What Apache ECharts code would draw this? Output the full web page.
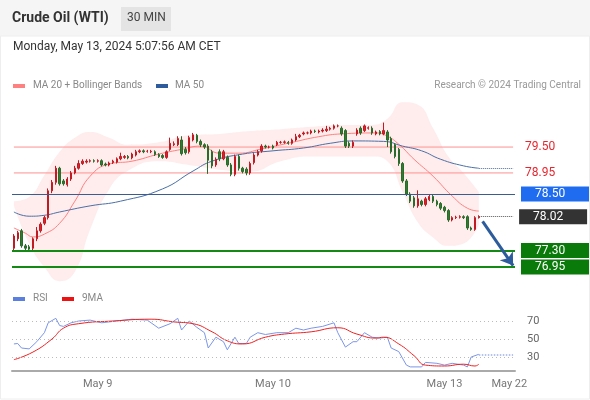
<!DOCTYPE html>
<html><head><meta charset="utf-8">
<script src="https://cdn.jsdelivr.net/npm/echarts@6/dist/echarts.min.js"></script>
<style>html,body{margin:0;padding:0;background:#fff}#c{width:590px;height:400px}</style>
</head><body><div id="c"></div>
<script>
// candles [open, close, low, high]
const candles = [
[77.35,77.61,77.30,77.65],[77.55,77.68,77.50,77.72],[77.72,77.40,77.36,77.76],[77.40,77.35,77.30,77.44],[77.38,77.33,77.28,77.42],
[77.35,77.55,77.30,77.58],[77.55,77.72,77.50,77.80],[77.72,77.86,77.68,77.90],[77.88,78.00,77.84,78.04],[78.00,78.57,77.96,78.62],
[78.57,78.75,78.52,78.80],[78.75,79.05,78.70,79.10],[79.05,78.72,78.68,79.08],[78.78,78.72,78.68,78.82],[78.70,78.82,78.66,78.86],
[78.82,78.95,78.78,78.99],[78.95,79.05,78.92,79.10],[79.05,79.15,79.02,79.22],[79.15,79.20,79.12,79.24],[79.18,79.20,79.15,79.24],
[79.20,79.21,79.17,79.24],[79.21,79.20,79.17,79.24],[79.20,79.21,79.17,79.24],[79.21,79.12,79.09,79.24],[79.14,79.12,79.09,79.17],
[79.12,79.16,79.09,79.19],[79.17,79.20,79.14,79.23],[79.18,79.25,79.15,79.28],[79.25,79.30,79.22,79.38],[79.28,79.30,79.25,79.33],
[79.30,79.27,79.24,79.33],[79.27,79.35,79.24,79.38],[79.33,79.40,79.30,79.44],[79.40,79.42,79.37,79.45],[79.42,79.40,79.37,79.45],
[79.41,79.41,79.38,79.44],[79.40,79.41,79.37,79.44],[79.40,79.34,79.31,79.43],[79.34,79.30,79.27,79.37],[79.32,79.28,79.25,79.35],
[79.28,79.40,79.25,79.43],[79.45,79.58,79.42,79.70],[79.55,79.57,79.52,79.62],[79.55,79.68,79.52,79.73],[79.65,79.36,79.32,79.73],
[79.45,79.38,79.34,79.50],[79.40,79.70,79.36,79.74],[79.65,79.76,79.62,79.80],[79.75,79.62,79.58,79.78],[79.62,79.55,79.50,79.66],
[79.55,79.50,79.46,79.58],[79.52,79.22,78.93,79.56],[79.40,79.10,79.05,79.44],[79.12,79.24,79.08,79.28],[79.40,79.25,79.20,79.45],
[79.25,79.40,79.22,79.44],[79.28,79.12,79.08,79.32],[79.12,78.92,78.88,79.16],[78.92,79.30,78.88,79.34],[79.30,79.05,79.00,79.34],
[79.05,78.98,78.94,79.08],[79.03,78.95,78.90,79.07],[78.95,79.15,78.91,79.19],[79.17,79.33,79.13,79.37],[79.33,79.40,79.30,79.44],
[79.42,79.52,79.38,79.56],[79.52,79.50,79.47,79.55],[79.50,79.50,79.47,79.53],[79.52,79.48,79.45,79.55],[79.55,79.60,79.52,79.63],
[79.60,79.60,79.57,79.63],[79.60,79.61,79.57,79.64],[79.60,79.58,79.55,79.63],[79.58,79.65,79.55,79.68],[79.65,79.72,79.62,79.78],
[79.72,79.75,79.69,79.78],[79.78,79.80,79.75,79.83],[79.80,79.80,79.77,79.83],[79.80,79.84,79.77,79.87],[79.84,79.83,79.80,79.87],
[79.82,79.84,79.79,79.87],[79.84,79.86,79.81,79.90],[79.85,79.88,79.82,79.95],[79.88,79.90,79.85,79.93],[79.90,79.95,79.87,79.98],
[79.95,79.95,79.92,79.98],[79.90,79.78,79.74,79.94],[79.85,79.52,79.48,79.88],[79.58,79.52,79.48,79.62],[79.52,79.60,79.48,79.64],
[79.78,79.86,79.74,79.90],[79.90,79.80,79.76,79.94],[79.85,79.95,79.82,79.98],[79.90,79.91,79.87,79.94],[79.90,79.80,79.76,79.94],
[79.78,79.82,79.75,79.85],[79.83,79.78,79.75,79.86],[79.78,79.85,79.75,80.02],[79.82,79.65,79.50,79.86],[79.68,79.40,79.36,79.72],
[79.55,79.30,79.26,79.58],[79.45,79.15,79.10,79.48],[79.15,78.78,78.74,79.18],[78.78,78.50,78.46,78.82],[78.50,78.35,78.31,78.54],
[78.42,78.25,78.21,78.46],[78.25,78.40,78.21,78.58],[78.35,78.28,78.24,78.38],[78.28,78.40,78.24,78.44],[78.38,78.45,78.35,78.48],
[78.45,78.35,78.31,78.48],[78.35,78.28,78.24,78.38],[78.30,78.20,78.16,78.33],[78.22,78.15,78.11,78.25],[78.15,77.95,77.91,78.18],
[77.95,78.00,77.92,78.03],[78.00,78.01,77.97,78.04],[78.01,78.02,77.98,78.05],[78.02,78.00,77.97,78.05],[78.02,77.78,77.74,78.05],
[77.78,77.75,77.72,77.81],[77.75,78.00,77.72,78.03],[78.00,78.02,77.98,78.05]
];
const slotCount = 132;
const ma20 = [[0,77.78],[3,77.67],[5,77.59],[8,77.65],[12,77.88],[16,78.35],[20,78.88],[25,79.14],[31,79.20],[38,79.35],[44,79.45],[49,79.52],[54,79.37],[59,79.37],[65,79.46],[73,79.60],[80,79.72],[86,79.78],[95,79.80],[98,79.73],[101,79.56],[105,79.24],[110,78.88],[115,78.46],[119,78.20],[122,78.14]];
const ma50 = [[0,78.12],[4,78.03],[8,78.05],[12,78.12],[20,78.25],[28,78.35],[39,78.61],[47,78.99],[52,79.20],[60,79.35],[68,79.42],[76,79.48],[83,79.58],[89,79.63],[97,79.62],[102,79.52],[107,79.42],[112,79.24],[118,79.10],[122,79.05]];
const bandIdx   = [0,4,8,12,16,20,25,30,38,46,54,62,70,78,86,94,98,102,106,110,114,118,122];
const bandUpper = [78.35,78.44,78.90,79.40,79.70,79.82,79.70,79.55,79.60,79.75,79.78,79.84,79.88,79.93,79.97,79.97,80.10,80.45,80.40,79.90,79.30,78.95,78.55];
const bandLower = [78.25,77.45,76.95,76.65,76.85,77.75,78.60,79.00,79.20,79.12,79.02,78.98,79.20,79.30,79.30,79.30,79.20,78.55,77.90,77.58,77.40,77.45,77.85];
const rsi = [[0,44.5],[1,45],[2,40],[4,39],[6,47],[8,57],[9,68],[11,73],[12,65],[13,64],[15,68],[17,70],[20,71],[23,68],[27,70],[31,72],[35,71],[38,62],[41,67],[43,73],[44,60],[46,70],[48,63],[50,57],[51,40],[53,52],[55,47],[56,38],[58,52],[59,45],[61,45],[62,52],[64,57],[66,55],[69,57],[72,57],[74,62],[76,60],[78,62],[81,64],[84,68],[85,57],[87,41],[89,47],[90,47],[92,57],[94,52],[96,51],[98,52],[99,40],[101,36],[103,21],[104,19],[107,19],[108,24],[111,23],[113,21],[115,23],[118,21],[119,19],[120,30],[122,33]];
const ma9 = [[0,27],[5,35.5],[10,50],[13,62],[17,67],[26,70],[36,72],[42,69],[47,67],[52,58],[56,48],[60,44.5],[66,52],[71,55.5],[78,58],[85,62.5],[90,55.5],[95,51],[97,52],[101,44.5],[105,31.5],[108,21],[113,20],[118,22],[121,20],[122,22]];
const resistances = [79.50, 78.95];
const pivot = 78.50;
const lastPrice = 78.02;
const supports = [77.30, 76.95];
const rsiLevels = [30, 50, 70];
const dateLabels = {22:'May 9', 68:'May 10', 113:'May 13', 130:'May 22'};

const cats = Array.from({length: slotCount}, (_, i) => String(i));
const bandDiff = bandUpper.map((u, i) => [bandIdx[i], +(u - bandLower[i]).toFixed(2)]);
const bandLow = bandLower.map((v, i) => [bandIdx[i], v]);
const F = 'Roboto, "Liberation Sans", sans-serif';

function tagLabel(bg, color, txt) {
  return {show: true, position: 'end', distance: 6, color: color, backgroundColor: bg,
    fontSize: 12, fontFamily: F, padding: [2, 6, 1, 14], width: 48, formatter: txt};
}
function levelSeries(lineStyle, items) {
  return {type: 'line', data: [], xAxisIndex: 0, yAxisIndex: 0, z: 5,
    markLine: {symbol: 'none', silent: true, lineStyle: lineStyle, data: items}};
}
function resistanceSeries(v) {
  return {type: 'line', data: [['0', v], [String(slotCount - 1), v]], symbol: 'none', silent: true, z: 2,
    lineStyle: {color: '#ff9090', width: 1},
    endLabel: {show: true, distance: 12, color: '#e8252d', fontSize: 12, fontFamily: F, formatter: v.toFixed(2)}};
}
const ch = echarts.init(document.getElementById('c'), null, {renderer: 'canvas'});
ch.setOption({
  animation: false,
  grid: [{left: 12, right: 75, top: 100, height: 183.5}, {left: 12, right: 75, top: 307.5, height: 63}],
  xAxis: [
    {type: 'category', data: cats, gridIndex: 0, show: false, boundaryGap: true},
    {type: 'category', data: cats, gridIndex: 1, boundaryGap: true,
      axisLine: {lineStyle: {color: '#aaa', width: 2}}, axisTick: {show: false},
      axisLabel: {interval: 0, color: '#777', fontSize: 11, fontFamily: F, margin: 8,
        formatter: (v) => dateLabels[v] || ''}}
  ],
  yAxis: [
    {type: 'value', gridIndex: 0, min: 76.6, max: 80.5, show: false},
    {type: 'value', gridIndex: 1, min: 15, max: 85, show: false}
  ],
  series: [
    {type: 'line', xAxisIndex: 0, yAxisIndex: 0, data: bandLow, stack: 'bb', smooth: true, symbol: 'none',
      lineStyle: {width: 0}, z: 1},
    {type: 'line', xAxisIndex: 0, yAxisIndex: 0, data: bandDiff, stack: 'bb', smooth: true, symbol: 'none',
      lineStyle: {width: 0}, areaStyle: {color: 'rgba(255,200,200,0.5)'}, z: 1},
    resistanceSeries(resistances[0]),
    resistanceSeries(resistances[1]),
    {type: 'line', data: ma20, smooth: true, symbol: 'none', lineStyle: {color: '#ff8080', width: 1}, z: 3},
    {type: 'line', data: ma50, smooth: true, symbol: 'none', lineStyle: {color: '#4a6fa5', width: 1}, z: 3,
      markLine: {symbol: 'none', silent: true, label: {show: false},
        lineStyle: {color: '#4a6fa5', type: 'dotted', width: 1},
        data: [[{coord: ['122', ma50[ma50.length-1][1]]}, {coord: ['131', ma50[ma50.length-1][1]]}]]}},
    {type: 'candlestick', data: candles, barMaxWidth: 3.2, z: 4,
      itemStyle: {color: '#e0202a', color0: '#2f7d2f', borderColor: '#c01a22', borderColor0: '#2a6a2a', borderWidth: 1}},
    levelSeries({color: '#3b5c8f', type: 'solid', width: 1}, [{yAxis: pivot, label: tagLabel('#1f6cf0', '#fff', pivot.toFixed(2))}]),
    levelSeries({color: '#555', type: 'dotted', width: 1}, [[{coord: ['122', lastPrice], label: tagLabel('#333333', '#fff', lastPrice.toFixed(2))}, {coord: ['131', lastPrice]}]]),
    levelSeries({color: '#138a13', type: 'solid', width: 2}, supports.map(v => ({yAxis: v, label: tagLabel('#0a7a0a', '#fff', v.toFixed(2))}))),
    {type: 'line', data: [], z: 6, markLine: {silent: true, symbol: ['none', 'arrow'], symbolSize: 12,
      lineStyle: {color: '#2d5c9c', width: 3, type: 'solid'}, label: {show: false},
      data: [[{coord: ['123', 77.92]}, {coord: ['131', 76.98]}]]}},
    {type: 'line', xAxisIndex: 1, yAxisIndex: 1, data: rsi, symbol: 'none', lineStyle: {color: '#7b96e8', width: 1}, z: 3,
      markLine: {silent: true, symbol: 'none', label: {show: false}, lineStyle: {color: '#9bb0ee', type: 'dotted', width: 1.5},
        data: [[{coord: ['122', 33]}, {coord: ['131', 33]}]]}},
    {type: 'line', xAxisIndex: 1, yAxisIndex: 1, data: ma9, smooth: true, symbol: 'none', lineStyle: {color: '#ee2020', width: 1}, z: 4,
      markLine: {silent: true, symbol: 'none',
        lineStyle: {color: '#bbb', type: [1, 3], width: 1},
        label: {show: true, position: 'end', distance: 12, color: '#666', fontSize: 11, fontFamily: F},
        data: rsiLevels.map(v => ({yAxis: v}))}}
  ],
  graphic: [
    {type: 'rect', shape: {x: 0, y: 0, width: 590, height: 36}, style: {fill: '#f5f5f5'}, z: -10},
    {type: 'rect', shape: {x: 0.5, y: 36, width: 589, height: 363}, style: {fill: 'none', stroke: '#eeeeee'}, z: -10},
    {type: 'text', left: 12, top: 11, style: {text: 'Crude Oil (WTI)', font: 'bold 14px ' + F, fill: '#333'}},
    {type: 'rect', shape: {x: 121, y: 7, width: 50, height: 24}, style: {fill: '#e4e4e4'}},
    {type: 'text', left: 127, top: 12, style: {text: '30 MIN', font: '12px ' + F, fill: '#444'}},
    {type: 'text', left: 13, top: 41, style: {text: 'Monday, May 13, 2024 5:07:56 AM CET', font: '12px ' + F, fill: '#333'}},
    {type: 'rect', shape: {x: 13, y: 84, width: 12, height: 4}, style: {fill: '#ff8080'}},
    {type: 'text', left: 33, top: 80, style: {text: 'MA 20 + Bollinger Bands', font: '10px ' + F, fill: '#888'}},
    {type: 'rect', shape: {x: 156, y: 84, width: 12, height: 4}, style: {fill: '#2d5b9b'}},
    {type: 'text', left: 175, top: 80, style: {text: 'MA 50', font: '10px ' + F, fill: '#888'}},
    {type: 'text', right: 9, top: 80, style: {text: 'Research © 2024 Trading Central', font: '10px ' + F, fill: '#999', align: 'right'}},
    {type: 'rect', shape: {x: 13, y: 297, width: 12, height: 4}, style: {fill: '#5b7fe0'}},
    {type: 'text', left: 33, top: 293, style: {text: 'RSI', font: '10px ' + F, fill: '#888'}},
    {type: 'rect', shape: {x: 62, y: 297, width: 12, height: 4}, style: {fill: '#ee1111'}},
    {type: 'text', left: 82, top: 293, style: {text: '9MA', font: '10px ' + F, fill: '#888'}}
  ]
});
</script></body></html>
